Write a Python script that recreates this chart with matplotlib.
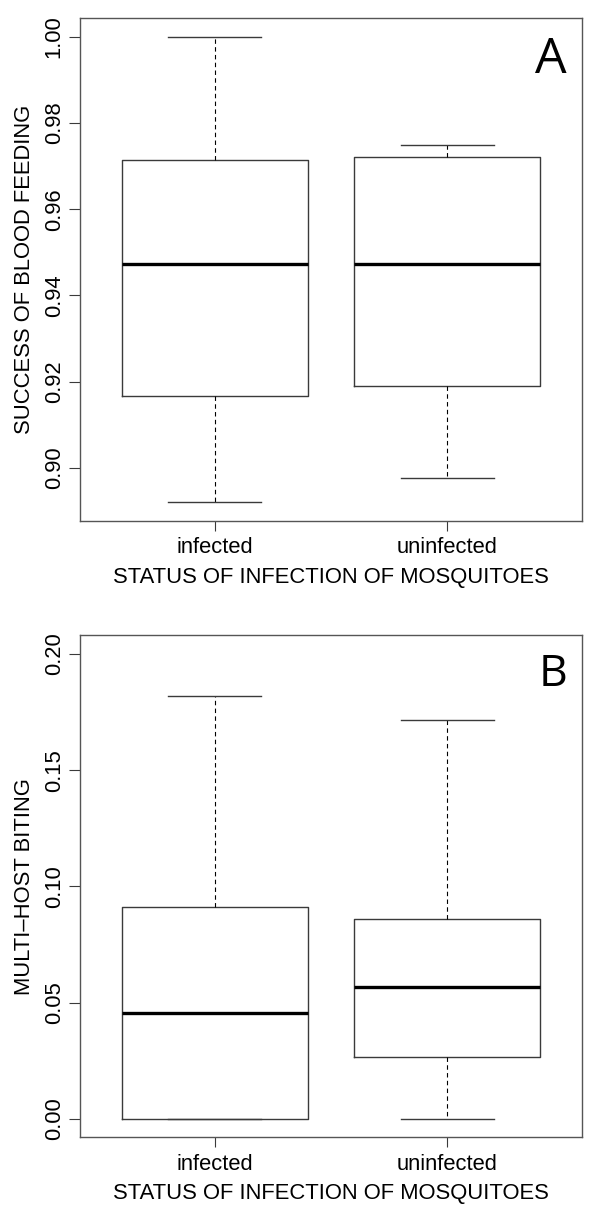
import matplotlib
matplotlib.use('Agg')
import matplotlib.pyplot as plt

# ===== data =====
groups = ['infected', 'uninfected']

# panel A : success of blood feeding
a_whislo = [0.892, 0.8975]
a_q1 = [0.9167, 0.919]
a_med = [0.9473, 0.9474]
a_q3 = [0.9714, 0.9722]
a_whishi = [1.000, 0.975]
a_ticks = [0.90, 0.92, 0.94, 0.96, 0.98, 1.00]

# panel B : multi-host biting
b_whislo = [0.0, 0.0]
b_q1 = [0.0, 0.0265]
b_med = [0.0455, 0.0569]
b_q3 = [0.0911, 0.0861]
b_whishi = [0.1819, 0.1717]
b_ticks = [0.00, 0.05, 0.10, 0.15, 0.20]

xlabel = 'STATUS OF INFECTION OF MOSQUITOES'

plt.rcParams['font.family'] = ['Liberation Sans', 'DejaVu Sans']
FS = 15.8
EDGE = '#3a3a3a'


def make_stats(lo, q1, med, q3, hi):
    return [dict(whislo=lo[i], q1=q1[i], med=med[i], q3=q3[i], whishi=hi[i],
                 fliers=[], label=groups[i]) for i in range(len(groups))]


def r_pad(lo, hi):
    # R style 4% axis extension
    d = (hi - lo) * 0.04
    return lo - d, hi + d


def panel(ax, stats, ticks, fmt, ylim, ylabel, letter, lsize):
    ax.bxp(stats, positions=[1, 2], widths=0.8, capwidths=0.4,
           showfliers=False, patch_artist=False,
           boxprops=dict(color=EDGE, linewidth=1.0),
           medianprops=dict(color='black', linewidth=2.4),
           whiskerprops=dict(color='black', linewidth=0.8, linestyle=(0, (4, 3))),
           capprops=dict(color=EDGE, linewidth=1.0))
    ax.set_xlim(0.42, 2.58)
    ax.set_ylim(*ylim)
    ax.set_yticks(ticks)
    ax.set_yticklabels([fmt.format(t) for t in ticks], rotation=90, va='center', fontsize=FS)
    ax.set_xticks([1, 2])
    ax.set_xticklabels(groups, fontsize=FS)
    ax.tick_params(axis='y', length=8, width=0.8, pad=3, color=EDGE)
    ax.tick_params(axis='x', length=7, width=0.8, pad=5, color=EDGE)
    for s in ax.spines.values():
        s.set_color('#555555')
        s.set_linewidth(1.0)
    ax.set_xlabel(xlabel, fontsize=FS, labelpad=6)
    ax.set_ylabel(ylabel, fontsize=FS, labelpad=6)
    ax.text(0.97, 0.965, letter, transform=ax.transAxes, ha='right', va='top',
            fontsize=lsize, family=['Open Sans', 'DejaVu Sans'])


fig = plt.figure(figsize=(6, 12.18), dpi=100)
ax1 = fig.add_axes([0.1333, 0.5725, 0.8367, 0.4124])
ax2 = fig.add_axes([0.1333, 0.0661, 0.8367, 0.4123])

panel(ax1, make_stats(a_whislo, a_q1, a_med, a_q3, a_whishi), a_ticks, '{:.2f}',
      r_pad(min(a_whislo), max(a_whishi)), 'SUCCESS OF BLOOD FEEDING', 'A', 36)
panel(ax2, make_stats(b_whislo, b_q1, b_med, b_q3, b_whishi), b_ticks, '{:.2f}',
      r_pad(0.0, 0.2), 'MULTI\u2013HOST BITING', 'B', 32)

fig.savefig('out.png', dpi=100)
